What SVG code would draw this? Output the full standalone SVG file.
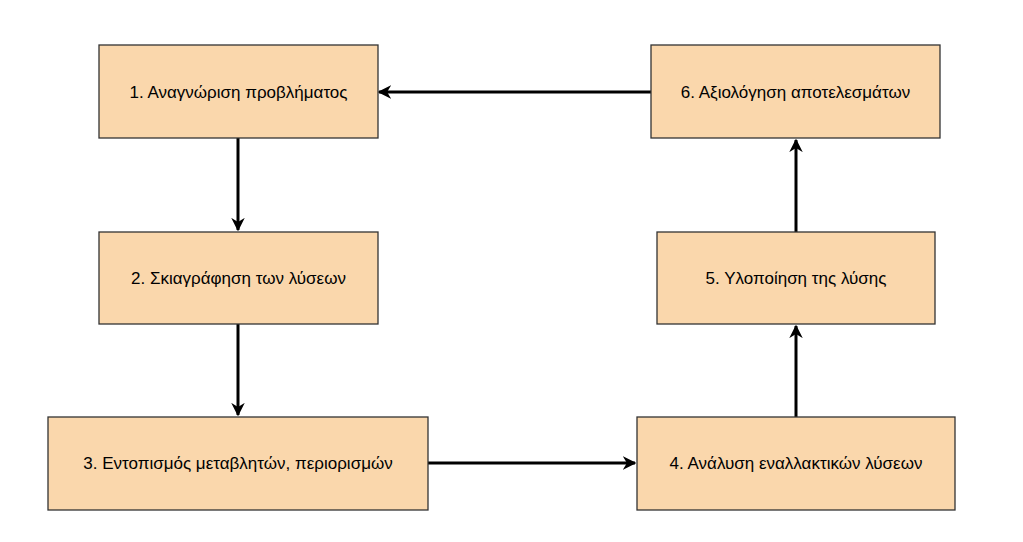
<svg xmlns="http://www.w3.org/2000/svg" width="1023" height="542" viewBox="0 0 1023 542">
<style>
.n{fill:#fad7ac;stroke:#333;stroke-width:1.3}
.t{font-family:"Liberation Sans",Arial,sans-serif;font-size:17px;fill:#000;text-anchor:middle;dominant-baseline:central}
.c{stroke:#000;stroke-width:3;fill:none;marker-end:url(#a)}
</style>
<defs><marker id="a" viewBox="0 0 10 10" refX="9" refY="5" markerWidth="4.5" markerHeight="4.5" orient="auto" markerUnits="strokeWidth"><path d="M0,0 L10,5 L0,10 L3,5 Z" fill="#000"/></marker></defs>
<rect width="1023" height="542" fill="#fff"/>
<g id="connectors">
<path class="c" d="M651,92 H379"/>
<path class="c" d="M238,138 V230"/>
<path class="c" d="M238,324 V415"/>
<path class="c" d="M428,463 H635"/>
<path class="c" d="M796,417 V326"/>
<path class="c" d="M796,232 V140"/>
</g>
<g id="n1"><rect class="n" x="99" y="45" width="279" height="93"/><text class="t" x="238.5" y="92">1. Αναγνώριση προβλήματος</text></g>
<g id="n2"><rect class="n" x="99" y="232" width="279" height="92"/><text class="t" x="238.5" y="278">2. Σκιαγράφηση των λύσεων</text></g>
<g id="n3"><rect class="n" x="48" y="417" width="380" height="93"/><text class="t" x="238" y="463">3. Εντοπισμός μεταβλητών, περιορισμών</text></g>
<g id="n4"><rect class="n" x="637" y="417" width="318" height="93"/><text class="t" x="796" y="463">4. Ανάλυση εναλλακτικών λύσεων</text></g>
<g id="n5"><rect class="n" x="657" y="232" width="278" height="92"/><text class="t" x="796" y="278">5. Υλοποίηση της λύσης</text></g>
<g id="n6"><rect class="n" x="651" y="45" width="289" height="93"/><text class="t" x="795.5" y="92">6. Αξιολόγηση αποτελεσμάτων</text></g>
</svg>
